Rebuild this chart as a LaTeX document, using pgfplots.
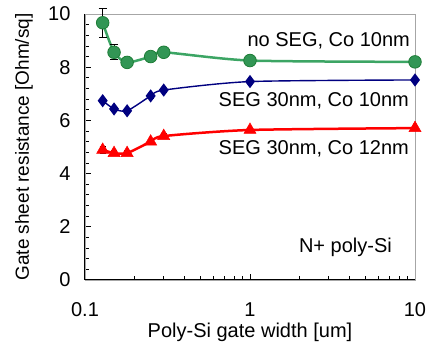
\documentclass[border=0pt]{standalone}
\usepackage{pgfplots}
\pgfplotsset{compat=1.18}
\usepackage{fontspec}
\setmainfont{Liberation Sans}
\definecolor{gline}{RGB}{60,165,100}
\definecolor{gfill}{RGB}{50,150,85}
\definecolor{gedge}{RGB}{30,125,55}
\definecolor{navy}{RGB}{0,0,128}
\begin{document}
\begin{tikzpicture}
\begin{axis}[
  scale only axis, width=330pt, height=266pt,
  xmode=log, xmin=0.1, xmax=10, ymin=0, ymax=10,
  xtick={0.1,1,10}, xticklabels={0.1,1,10},
  minor xtick={0.2,0.3,0.4,0.5,0.6,0.7,0.8,0.9,2,3,4,5,6,7,8,9},
  ytick={0,2,4,6,8,10}, minor y tick num=4,
  tick pos=left, tick align=inside,
  major tick length=6pt, minor tick length=4pt,
  tick style={black, line width=0.8pt},
  axis line style={gray!70, line width=0.8pt},
  /pgf/number format/assume math mode=true,
  ticklabel style={font=\fontsize{20}{24}\selectfont},
  xticklabel style={yshift=-19pt},
  yticklabel style={xshift=-11pt},
  xlabel={Poly-Si gate width [um]},
  ylabel={Gate sheet resistance [Ohm/sq]},
  xlabel style={font=\fontsize{20}{24}\selectfont, at={(axis description cs:0.5,-0.216)}, anchor=base},
  ylabel style={font=\fontsize{19}{23}\selectfont, at={(axis description cs:-0.185,0.5)}, anchor=center},
  clip=false,
]
\draw[black, line width=1pt] (rel axis cs:0,1) -- (rel axis cs:0,0) -- (rel axis cs:1,0);
% green: no SEG, Co 10nm
\addplot[gline, line width=2.5pt, smooth, tension=0.4,
  mark=*, mark size=6.3pt, mark options={fill=gfill, draw=gedge, line width=0.8pt},
  error bars/.cd, y dir=both, y explicit,
  error bar style={black, line width=0.8pt}, error mark options={black, rotate=90, mark size=4pt, line width=0.8pt}]
  coordinates {
  (0.128,9.67) +- (0,0.55)
  (0.15,8.56) +- (0,0.28)
  (0.18,8.18) +- (0,0.08)
  (0.25,8.40) +- (0,0.08)
  (0.30,8.56) +- (0,0.08)
  (1,8.25) +- (0,0.05)
  (10,8.20) +- (0,0.05)
  };
% blue: SEG 30nm, Co 10nm
\addplot[navy, line width=1.4pt, smooth, tension=0.4,
  mark=diamond*, mark size=5.5pt, mark options={fill=navy, draw=navy},
  error bars/.cd, y dir=both, y explicit,
  error bar style={black, line width=0.8pt}, error mark options={black, rotate=90, mark size=3pt, line width=0.8pt}]
  coordinates {
  (0.128,6.74) +- (0,0.1)
  (0.15,6.43) +- (0,0.1)
  (0.18,6.36) +- (0,0.1)
  (0.25,6.92) +- (0,0.1)
  (0.30,7.14) +- (0,0.08)
  (1,7.46) +- (0,0.05)
  (10,7.52) +- (0,0.05)
  };
% red: SEG 30nm, Co 12nm
\addplot[red, line width=2.5pt, smooth, tension=0.4,
  mark=triangle*, mark size=7pt, mark options={fill=red, draw=red, line width=0.5pt},
  error bars/.cd, y dir=both, y explicit,
  error bar style={black, line width=0.8pt}, error mark options={black, rotate=90, mark size=3pt, line width=0.8pt}]
  coordinates {
  (0.128,4.89) +- (0,0.12)
  (0.15,4.77) +- (0,0.1)
  (0.18,4.77) +- (0,0.1)
  (0.25,5.20) +- (0,0.1)
  (0.30,5.41) +- (0,0.1)
  (1,5.64) +- (0,0.05)
  (10,5.71) +- (0,0.05)
  };
\node[anchor=base east, inner sep=0pt, font=\fontsize{20}{24}\selectfont] at (axis cs:9.34,8.77) {no SEG, Co 10nm};
\node[anchor=base east, inner sep=0pt, font=\fontsize{20}{24}\selectfont] at (axis cs:9.2,6.54) {SEG 30nm, Co 10nm};
\node[anchor=base east, inner sep=0pt, font=\fontsize{20}{24}\selectfont] at (axis cs:9.2,4.72) {SEG 30nm, Co 12nm};
\node[anchor=base east, inner sep=0pt, font=\fontsize{20}{24}\selectfont] at (axis cs:7.26,1.05) {N+ poly-Si};
\end{axis}
\pgfresetboundingbox
\path[use as bounding box] ([xshift=-85pt,yshift=-69pt]current axis.south west) rectangle ([xshift=15pt,yshift=14pt]current axis.north east);
\end{tikzpicture}
\end{document}
